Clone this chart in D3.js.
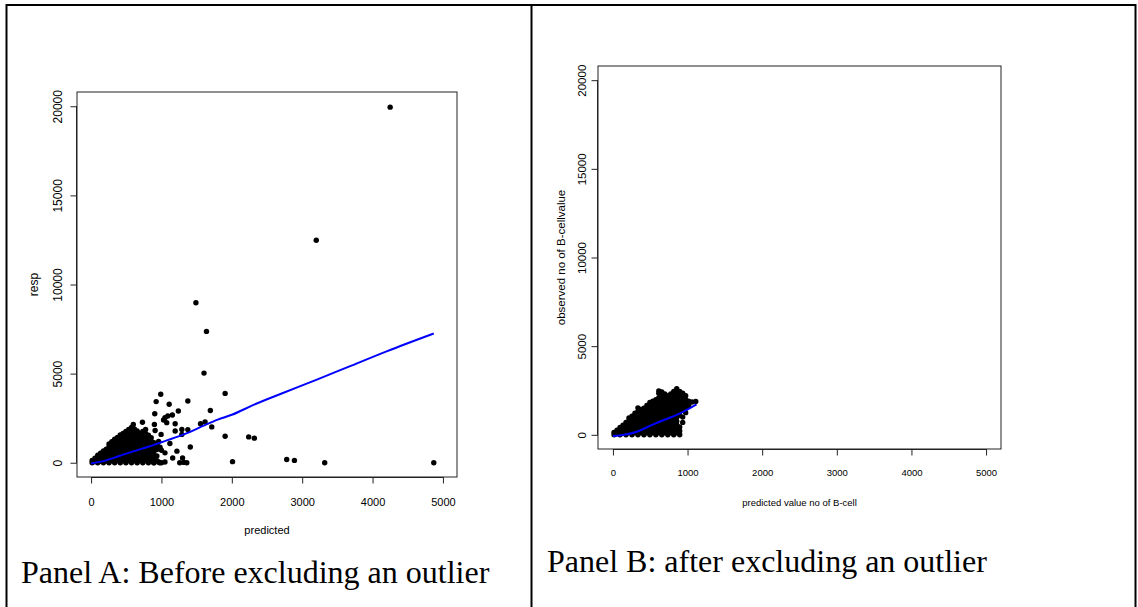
<!DOCTYPE html>
<html>
<head>
<meta charset="utf-8">
<script src="https://cdn.jsdelivr.net/npm/d3@7"></script>
<style>
  body { margin: 0; background: #fff; }
  text { font-family: "Liberation Sans", Arial, sans-serif; fill: #000; }
  .caption { font-family: "Liberation Serif", "Times New Roman", serif; font-size: 32px; }
</style>
</head>
<body>
<script>
// Canvas
const width = 1138,
  height = 607

// Axis ticks (same for both panels)
const xTicks = [0, 1000, 2000, 3000, 4000, 5000]
const yTicks = [0, 5000, 10000, 15000, 20000]

// Panel A: dense cluster near the origin, read as a patch of dots
const clusterA = [
  [15,0],[15,130],
  [55,60],[55,260],
  [95,0],[95,200],[95,420],
  [135,100],[135,310],[135,540],
  [175,0],[175,210],[175,430],[175,660],
  [215,100],[215,320],[215,540],[215,760],
  [255,0],[255,220],[255,440],[255,660],[255,880],[255,1050],
  [295,110],[295,330],[295,550],[295,770],[295,990],[295,1180],
  [335,0],[335,220],[335,440],[335,660],[335,880],[335,1100],[335,1320],
  [375,110],[375,330],[375,550],[375,770],[375,990],[375,1210],[375,1420],
  [415,0],[415,220],[415,440],[415,660],[415,880],[415,1100],[415,1320],[415,1560],
  [455,110],[455,330],[455,550],[455,770],[455,990],[455,1210],[455,1430],[455,1640],
  [495,0],[495,220],[495,440],[495,660],[495,880],[495,1100],[495,1320],[495,1540],[495,1760],
  [535,110],[535,330],[535,550],[535,770],[535,990],[535,1210],[535,1430],[535,1650],[535,1870],
  [575,0],[575,220],[575,440],[575,660],[575,880],[575,1100],[575,1320],[575,1540],[575,1760],[575,1980],
  [600,2150],
  [615,110],[615,330],[615,550],[615,770],[615,990],[615,1210],[615,1430],[615,1650],[615,1900],
  [655,0],[655,220],[655,440],[655,660],[655,880],[655,1100],[655,1320],[655,1540],[655,1780],
  [695,110],[695,330],[695,550],[695,770],[695,990],[695,1210],[695,1430],[695,1650],
  [735,0],[735,220],[735,440],[735,660],[735,880],[735,1100],[735,1320],[735,1540],[735,1760],
  [775,110],[775,330],[775,550],[775,770],[775,990],[775,1210],[775,1430],[775,1650],[775,1870],
  [815,0],[815,220],[815,440],[815,660],[815,880],[815,1100],[815,1320],[815,1540],
  [855,110],[855,330],[855,550],[855,770],[855,990],[855,1210],[855,1400],
  [895,0],[895,220],[895,440],[895,660],[895,880],[895,1120],
  [935,120],[935,380],[935,740],
  [975,0]
]

// Panel A: scattered points
const scatterA = [
  [4250,19950],[3200,12480],[1490,8980],[1640,7370],[1605,5030],[1905,3890],
  [990,3845],[925,3430],[1375,3460],[1110,3280],[1695,2930],[1240,2900],
  [905,2750],[1030,2400],[1090,2620],[1155,2680],[1075,2250],[1050,2530],
  [730,2270],[900,2150],[1195,2190],[1555,2190],[1620,2290],[1715,2010],
  [910,1810],[995,1590],[1195,1780],[1290,1870],[1290,1590],[1375,1860],
  [1905,1490],[2240,1450],[2320,1380],[1120,1080],[1410,880],[1220,650],
  [1050,555],[1160,270],[1300,270],[960,40],[1050,40],[1320,20],
  [2010,60],[2780,180],[2890,130],[3320,0],[4870,0],[1360,0],
  [1260,0],[1000,0],[890,0],[980,870],[960,1200],[1000,700],[940,1000]
]

// Panel A: smooth fit
const fitA = [
  [0,-40],[200,120],[400,380],[600,640],[800,880],[1000,1150],[1200,1420],
  [1400,1720],[1600,2080],[1800,2420],[2000,2690],[2300,3230],[2700,3870],
  [3200,4650],[3700,5450],[4200,6250],[4870,7250]
]

// Panel B: cluster after removing the outlier
const clusterB = [
  [15,0],[15,140],
  [55,80],[55,260],
  [95,0],[95,220],[95,420],
  [135,110],[135,330],[135,540],
  [175,0],[175,220],[175,440],[175,700],
  [215,110],[215,330],[215,550],[215,800],[215,950],
  [255,0],[255,220],[255,440],[255,660],[255,880],[255,1050],
  [295,110],[295,330],[295,550],[295,770],[295,990],[295,1220],
  [335,0],[335,220],[335,440],[335,660],[335,880],[335,1100],[335,1320],[335,1520],
  [375,110],[375,330],[375,550],[375,770],[375,990],[375,1210],[375,1430],
  [415,0],[415,220],[415,440],[415,660],[415,880],[415,1100],[415,1320],[415,1500],
  [455,110],[455,330],[455,550],[455,770],[455,990],[455,1210],[455,1430],[455,1650],
  [495,0],[495,220],[495,440],[495,660],[495,880],[495,1100],[495,1320],[495,1540],[495,1820],
  [535,110],[535,330],[535,550],[535,770],[535,990],[535,1210],[535,1430],[535,1650],[535,1900],
  [575,0],[575,220],[575,440],[575,660],[575,880],[575,1100],[575,1320],[575,1540],[575,1760],[575,1980],
  [615,110],[615,330],[615,550],[615,770],[615,990],[615,1210],[615,1430],[615,1650],[615,1870],[615,2100],[615,2350],[615,2480],
  [655,0],[655,220],[655,440],[655,660],[655,880],[655,1100],[655,1320],[655,1540],[655,1760],[655,1980],[655,2200],[655,2420],
  [695,110],[695,330],[695,550],[695,770],[695,990],[695,1210],[695,1430],[695,1650],[695,1870],[695,2090],[695,2300],
  [735,0],[735,220],[735,440],[735,660],[735,880],[735,1100],[735,1320],[735,1540],[735,1760],[735,1980],[735,2200],
  [775,110],[775,330],[775,550],[775,770],[775,990],[775,1210],[775,1430],[775,1650],[775,1870],[775,2090],[775,2300],
  [815,0],[815,220],[815,440],[815,660],[815,880],[815,1100],[815,1320],[815,1540],[815,1760],[815,1980],[815,2200],[815,2450],
  [855,110],[855,330],[855,550],[855,770],[855,990],[855,1210],[855,1430],[855,1650],[855,1870],[855,2090],[855,2350],[855,2600],
  [895,0],[895,220],[895,440],[895,1100],[895,1320],[895,1540],[895,1760],[895,1980],[895,2200],[895,2450],
  [935,700],[935,1000],[935,1430],[935,1650],[935,1870],[935,2090],[935,2350],
  [975,1250],[975,1500],[975,1760],[975,1980],[975,2200],
  [1015,1650],[1015,1900],
  [1060,1850],[1110,1880]
]

// Panel B: smooth fit
const fitB = [
  [0,-70],[150,0],[330,190],[510,530],[690,850],[870,1150],[1120,1720]
]

// Drawing area
const svg = d3.select('body')
  .append('svg')
  .attr('width', width)
  .attr('height', height)

// Table frame around the two panels
const frame = [
  [6, 5, 1136, 5],
  [6.5, 4, 6.5, 607],
  [531.5, 4, 531.5, 607],
  [1135.5, 4, 1135.5, 607]
]
svg.selectAll('line.frame')
  .data(frame)
  .enter()
  .append('line')
  .attr('class', 'frame')
  .attr('x1', d => d[0]).attr('y1', d => d[1])
  .attr('x2', d => d[2]).attr('y2', d => d[3])
  .attr('stroke', '#000')
  .attr('stroke-width', 2)

let drawPanel = (p) => {
  const x = d3.scaleLinear().domain([-200, 5200]).range([p.left, p.right])
  const y = d3.scaleLinear().domain([-800, 20800]).range([p.bottom, p.top])
  const g = svg.append('g')

  // points
  g.selectAll('circle')
    .data(p.points)
    .enter()
    .append('circle')
    .attr('cx', d => x(d[0]))
    .attr('cy', d => y(d[1]))
    .attr('r', 2.7)
    .attr('fill', '#000')

  // fitted line
  g.append('path')
    .datum(p.fit)
    .attr('fill', 'none')
    .attr('stroke', '#0000ff')
    .attr('stroke-width', 2)
    .attr('d', d3.line().x(d => x(d[0])).y(d => y(d[1])).curve(d3.curveMonotoneX))

  // box
  g.append('rect')
    .attr('x', p.left).attr('y', p.top)
    .attr('width', p.right - p.left).attr('height', p.bottom - p.top)
    .attr('fill', 'none')
    .attr('stroke', '#222')
    .attr('stroke-width', 1)

  // x axis
  const xa = g.append('g')
    .attr('transform', `translate(0,${p.bottom})`)
    .call(d3.axisBottom(x).tickValues(xTicks).tickSize(6.5).tickSizeOuter(0).tickFormat(d3.format('d')))
  xa.select('.domain').attr('d', `M${x(0)},0.5H${x(5000)}`).attr('stroke', '#222')
  xa.selectAll('line').attr('stroke', '#222')
  xa.selectAll('text')
    .attr('y', p.xTickOff)
    .attr('dy', '0.35em')
    .style('font-size', p.xTickSize + 'px')
    .style('font-family', '"Liberation Sans", Arial, sans-serif')

  // y axis with labels parallel to the axis
  const ya = g.append('g')
    .attr('transform', `translate(${p.left},0)`)
    .call(d3.axisLeft(y).tickValues(yTicks).tickSize(6.5).tickSizeOuter(0).tickFormat(d3.format('d')))
  ya.select('.domain').attr('d', `M-0.5,${y(0)}V${y(20000)}`).attr('stroke', '#222')
  ya.selectAll('line').attr('stroke', '#222')
  ya.selectAll('text')
    .attr('transform', 'rotate(-90)')
    .attr('x', 0)
    .attr('y', -p.yTickOff)
    .attr('dy', '0.35em')
    .attr('text-anchor', 'middle')
    .style('font-size', p.yTickSize + 'px')
    .style('font-family', '"Liberation Sans", Arial, sans-serif')

  // axis titles
  g.append('text')
    .attr('x', (p.left + p.right) / 2)
    .attr('y', p.xLabelY)
    .attr('dy', '0.35em')
    .attr('text-anchor', 'middle')
    .style('font-size', p.xTickSize + 'px')
    .text(p.xLabel)

  g.append('text')
    .attr('transform', `translate(${p.yLabelX},${(p.top + p.bottom) / 2}) rotate(-90)`)
    .attr('dy', '0.35em')
    .attr('text-anchor', 'middle')
    .style('font-size', p.yTickSize + 'px')
    .text(p.yLabel)

  // caption under the panel
  svg.append('text')
    .attr('class', 'caption')
    .attr('x', p.capX)
    .attr('y', p.capY)
    .text(p.caption)
}

drawPanel({
  points: clusterA.concat(scatterA), fit: fitA,
  left: 77, right: 457, top: 92, bottom: 477,
  xTickOff: 25, yTickOff: 19, xTickSize: 11, yTickSize: 12,
  xLabel: 'predicted', xLabelY: 530,
  yLabel: 'resp', yLabelX: 34,
  caption: 'Panel A: Before excluding an outlier', capX: 21, capY: 583
})

drawPanel({
  points: clusterB, fit: fitB,
  left: 598, right: 1001, top: 66, bottom: 449,
  xTickOff: 24, yTickOff: 16, xTickSize: 9.5, yTickSize: 11.5,
  xLabel: 'predicted value no of B-cell', xLabelY: 503,
  yLabel: 'observed no of B-cellvalue', yLabelX: 561,
  caption: 'Panel B: after excluding an outlier', capX: 547, capY: 572
})
</script>
</body>
</html>
